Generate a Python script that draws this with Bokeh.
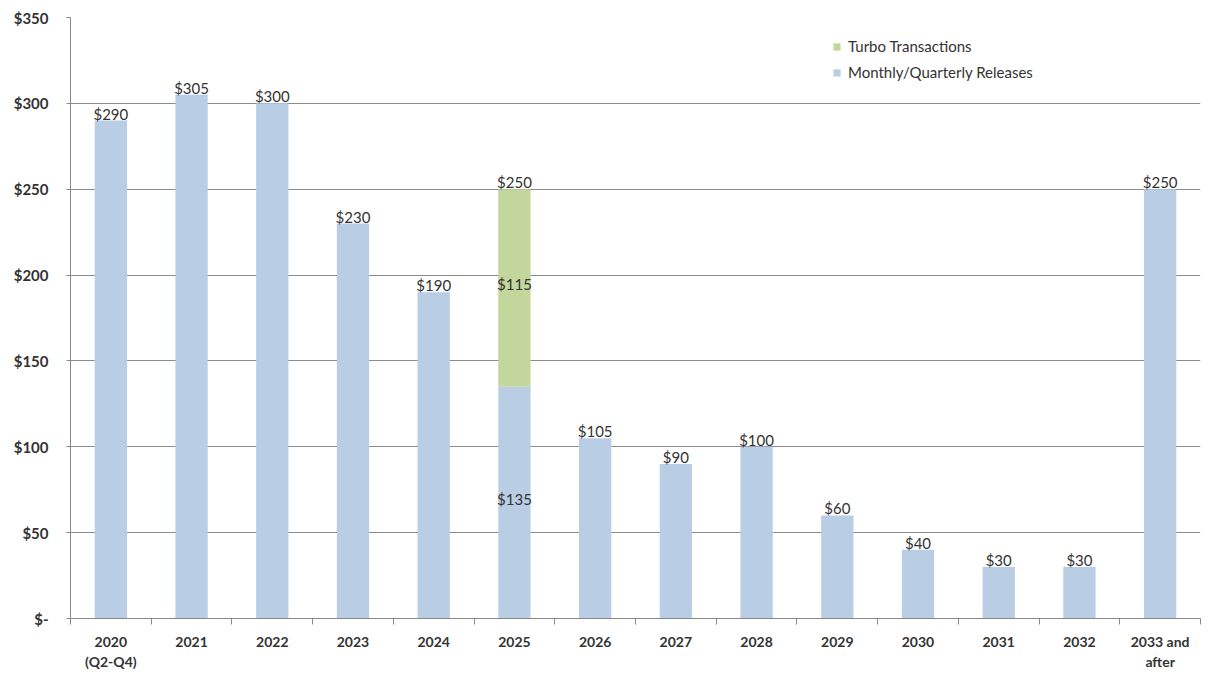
from bokeh.plotting import figure
from bokeh.models import ColumnDataSource, FixedTicker, Range1d, Legend, LegendItem
from bokeh.core.properties import value
from bokeh.embed import file_html
from bokeh.resources import INLINE

categories = ["2020\n(Q2-Q4)", "2021", "2022", "2023", "2024", "2025", "2026",
              "2027", "2028", "2029", "2030", "2031", "2032", "2033 and\nafter"]
monthly = [290, 305, 300, 230, 190, 135, 105, 90, 100, 60, 40, 30, 30, 250]
turbo = [0, 0, 0, 0, 0, 115, 0, 0, 0, 0, 0, 0, 0, 0]
y_ticks = [0, 50, 100, 150, 200, 250, 300, 350]

BLUE = "#B9CDE5"
GREEN = "#C3D69B"
FONT = "Lato"

n = len(categories)
xc = [i + 0.5 for i in range(n)]
totals = [m + t for m, t in zip(monthly, turbo)]
top_labels = ["$%d" % v for v in totals]

src = ColumnDataSource(dict(x=xc, monthly=monthly, turbo=turbo,
                            mtop=monthly, ttop=totals, total=totals, label=top_labels))

p = figure(width=1206, height=677, output_backend="svg", toolbar_location=None,
           x_range=Range1d(0, n), y_range=Range1d(0, 350))
p.min_border_left = 70
p.min_border_right = 6
p.min_border_top = 17
p.min_border_bottom = 59
p.outline_line_color = None
p.background_fill_color = "white"

r_m = p.vbar(x="x", bottom=0, top="mtop", width=0.4, source=src,
             fill_color=BLUE, line_color=None)
r_t = p.vbar(x="x", bottom="mtop", top="ttop", width=0.4, source=src,
             fill_color=GREEN, line_color=None)

# total labels above bars
p.text(x="x", y="total", text="label", source=src, text_align="center",
       text_baseline="bottom", y_offset=2, text_font=value(FONT),
       text_font_size="15px", text_color="#333333")

# segment labels for the stacked bar
seg_x, seg_y, seg_t = [], [], []
for i in range(n):
    if turbo[i] > 0:
        seg_x += [xc[i], xc[i]]
        seg_y += [monthly[i] / 2.0, monthly[i] + turbo[i] / 2.0]
        seg_t += ["$%d" % monthly[i], "$%d" % turbo[i]]
p.text(x=seg_x, y=seg_y, text=seg_t, text_align="center", text_baseline="middle",
       y_offset=-4, text_font=value(FONT), text_font_size="15px", text_color="#333333")

legend = Legend(items=[LegendItem(label="Turbo Transactions", renderers=[r_t]),
                       LegendItem(label="Monthly/Quarterly Releases", renderers=[r_m])],
                location=(762, 536))
legend.border_line_color = None
legend.background_fill_alpha = 0
legend.label_text_font = FONT
legend.label_text_font_size = "15px"
legend.label_text_color = "#333333"
legend.glyph_width = 9
legend.glyph_height = 9
legend.label_height = 20
legend.spacing = 6
legend.padding = 2
legend.label_standoff = 7
p.add_layout(legend, "center")

# x axis
p.xaxis.ticker = FixedTicker(ticks=xc, minor_ticks=list(range(n + 1)))
p.xaxis.major_label_overrides = {x: c for x, c in zip(xc, categories)}
p.xaxis.major_tick_line_color = None
p.xaxis.major_tick_out = 0
p.xaxis.major_tick_in = 0
p.xaxis.minor_tick_in = 0
p.xaxis.minor_tick_out = 6
p.xaxis.minor_tick_line_color = "#888888"
p.xaxis.axis_line_color = "#888888"
p.xaxis.major_label_text_font = FONT
p.xaxis.major_label_text_font_style = "bold"
p.xaxis.major_label_text_font_size = "14px"
p.xaxis.major_label_text_color = "#333333"
p.xaxis.major_label_standoff = 8
p.xgrid.grid_line_color = None

# y axis
p.yaxis.ticker = FixedTicker(ticks=y_ticks)
p.yaxis.major_label_overrides = {v: ("$-" if v == 0 else "$%d" % v) for v in y_ticks}
p.yaxis.axis_line_color = "#888888"
p.yaxis.major_tick_line_color = "#888888"
p.yaxis.major_tick_in = 0
p.yaxis.major_tick_out = 4
p.yaxis.minor_tick_line_color = None
p.yaxis.major_label_text_font = FONT
p.yaxis.major_label_text_font_style = "bold"
p.yaxis.major_label_text_font_size = "15px"
p.yaxis.major_label_text_color = "#333333"
p.yaxis.major_label_standoff = 18
p.ygrid.grid_line_color = "#8c8c8c"
p.ygrid.grid_line_width = 1

open("out.html", "w").write(file_html(p, INLINE))
